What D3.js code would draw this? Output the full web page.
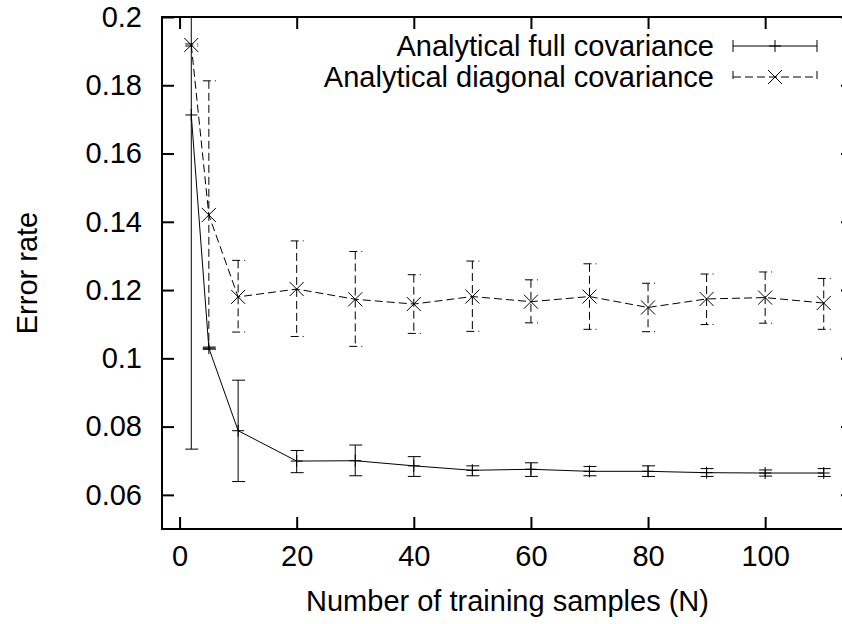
<!DOCTYPE html>
<html>
<head>
<meta charset="utf-8">
<script src="https://cdn.jsdelivr.net/npm/d3@7"></script>
<style>
  body { margin: 0; background: #fff; }
  text { font-family: "Liberation Sans", Arial, sans-serif; fill: #000; }
</style>
</head>
<body>
<div id="chart"></div>
<script>
// data
var nSamples = [2, 5, 10, 20, 30, 40, 50, 60, 70, 80, 90, 100, 110];

var fullMean = [0.1713, 0.1030, 0.0788, 0.0699, 0.0700, 0.0685, 0.0672, 0.0675, 0.0669, 0.0669, 0.0665, 0.0664, 0.0664];
var fullLow  = [0.0734, 0.1027, 0.0639, 0.0665, 0.0656, 0.0654, 0.0656, 0.0654, 0.0656, 0.0654, 0.0654, 0.0655, 0.0654];
var fullHigh = [0.2692, 0.1033, 0.0936, 0.0730, 0.0746, 0.0712, 0.0685, 0.0694, 0.0683, 0.0685, 0.0677, 0.0673, 0.0677];

var diagMean = [0.1918, 0.1420, 0.1180, 0.1203, 0.1173, 0.1159, 0.1181, 0.1166, 0.1181, 0.1149, 0.1174, 0.1178, 0.1162];
var diagLow  = [0.1915, 0.1027, 0.1077, 0.1064, 0.1035, 0.1073, 0.1079, 0.1104, 0.1085, 0.1078, 0.1099, 0.1103, 0.1085];
var diagHigh = [0.1921, 0.1813, 0.1287, 0.1344, 0.1313, 0.1245, 0.1285, 0.1230, 0.1277, 0.1220, 0.1247, 0.1253, 0.1234];

var xTicks = [0, 20, 40, 60, 80, 100];
var yTicks = [0.06, 0.08, 0.1, 0.12, 0.14, 0.16, 0.18, 0.2];
var seriesNames = ["Analytical full covariance", "Analytical diagonal covariance"];

var W = 842, H = 624;
// plot frame; the right edge falls just off the canvas
var mLeft = 162, mTop = 17, mRight = 853, mBottom = 529;
var fontSize = 29;
var tickLen = 12;
var capW = 6;
var dash = "8,4";

var x = d3.scaleLinear().domain([-3, 115]).range([mLeft, mRight]);
var y = d3.scaleLinear().domain([0.05, 0.2]).range([mBottom, mTop]);

var svg = d3.select("#chart").append("svg")
    .attr("width", W).attr("height", H);

svg.append("clipPath").attr("id", "plotclip")
    .append("rect").attr("x", mLeft).attr("y", mTop)
    .attr("width", mRight - mLeft).attr("height", mBottom - mTop);

// axes: ticks point inward, mirrored on top/right
svg.append("g").attr("transform", "translate(0," + mBottom + ")")
    .call(d3.axisBottom(x).tickValues(xTicks).tickSize(-tickLen).tickPadding(tickLen + 4).tickFormat(d3.format("d")));
svg.append("g").attr("transform", "translate(0," + mTop + ")")
    .call(d3.axisTop(x).tickValues(xTicks).tickSize(-tickLen).tickFormat(""));
svg.append("g").attr("transform", "translate(" + mLeft + ",0)")
    .call(d3.axisLeft(y).tickValues(yTicks).tickSize(-tickLen).tickPadding(tickLen + 8).tickFormat(d3.format("")));
svg.append("g").attr("transform", "translate(" + mRight + ",0)")
    .call(d3.axisRight(y).tickValues(yTicks).tickSize(-tickLen).tickFormat(""));

svg.selectAll(".domain").remove();
svg.selectAll(".tick line").attr("stroke", "#000").attr("stroke-width", 2);
svg.selectAll(".tick text").style("font-size", fontSize + "px")
    .style("font-family", '"Liberation Sans", Arial, sans-serif');

svg.append("rect").attr("x", mLeft).attr("y", mTop)
    .attr("width", mRight - mLeft).attr("height", mBottom - mTop)
    .attr("fill", "none").attr("stroke", "#000").attr("stroke-width", 2);

// axis labels
svg.append("text").attr("text-anchor", "middle")
    .attr("x", (mLeft + mRight) / 2).attr("y", 611)
    .style("font-size", fontSize + "px")
    .text("Number of training samples (N)");
svg.append("text").attr("text-anchor", "middle")
    .attr("transform", "translate(37," + ((mTop + mBottom) / 2) + ")rotate(-90)")
    .style("font-size", fontSize + "px")
    .text("Error rate");

var plot = svg.append("g").attr("clip-path", "url(#plotclip)");

function drawSeries(mean, low, high, dashed, marker) {
    var pts = nSamples.map(function(n, i) { return {x: n, m: mean[i], lo: low[i], hi: high[i]}; });
    var g = plot.append("g").attr("stroke", "#000").attr("stroke-width", 1).attr("fill", "none");
    var da = dashed ? dash : null;

    // error bars
    pts.forEach(function(p) {
        var px = x(p.x);
        g.append("line").attr("x1", px).attr("x2", px)
            .attr("y1", y(p.hi)).attr("y2", y(p.lo)).attr("stroke-dasharray", da);
        [p.lo, p.hi].forEach(function(v) {
            g.append("line").attr("x1", px - capW).attr("x2", px + capW + 1)
                .attr("y1", y(v)).attr("y2", y(v)).attr("stroke-dasharray", da);
        });
    });

    // connecting line
    g.append("path").attr("stroke-dasharray", da)
        .attr("d", d3.line().x(function(p) { return x(p.x); }).y(function(p) { return y(p.m); })(pts));

    pts.forEach(function(p) { marker(g, x(p.x), y(p.m)); });
}

function plusMark(g, cx, cy) {
    g.append("path").attr("d", "M" + (cx - 6) + "," + cy + "H" + (cx + 6) + "M" + cx + "," + (cy - 6) + "V" + (cy + 6));
}
function crossMark(g, cx, cy) {
    g.append("path").attr("d", "M" + (cx - 7) + "," + (cy - 7) + "L" + (cx + 7) + "," + (cy + 7) +
        "M" + (cx - 7) + "," + (cy + 7) + "L" + (cx + 7) + "," + (cy - 7));
}

drawSeries(fullMean, fullLow, fullHigh, false, plusMark);
drawSeries(diagMean, diagLow, diagHigh, true, crossMark);

// legend
var legX0 = 733, legX1 = 817, legY = [46, 77];
[plusMark, crossMark].forEach(function(mk, i) {
    var ly = legY[i];
    var da = i == 1 ? dash : null;
    svg.append("text").attr("text-anchor", "end")
        .attr("x", legX0 - 19).attr("y", ly).attr("dy", "0.35em")
        .style("font-size", fontSize + "px")
        .text(seriesNames[i]);
    var g = svg.append("g").attr("stroke", "#000").attr("stroke-width", 1).attr("fill", "none");
    g.append("line").attr("x1", legX0).attr("x2", legX1).attr("y1", ly).attr("y2", ly).attr("stroke-dasharray", da);
    [legX0, legX1].forEach(function(lx) {
        g.append("line").attr("x1", lx).attr("x2", lx).attr("y1", ly - 6).attr("y2", ly + 6).attr("stroke-dasharray", da);
    });
    mk(g, (legX0 + legX1) / 2, ly);
});
</script>
</body>
</html>
